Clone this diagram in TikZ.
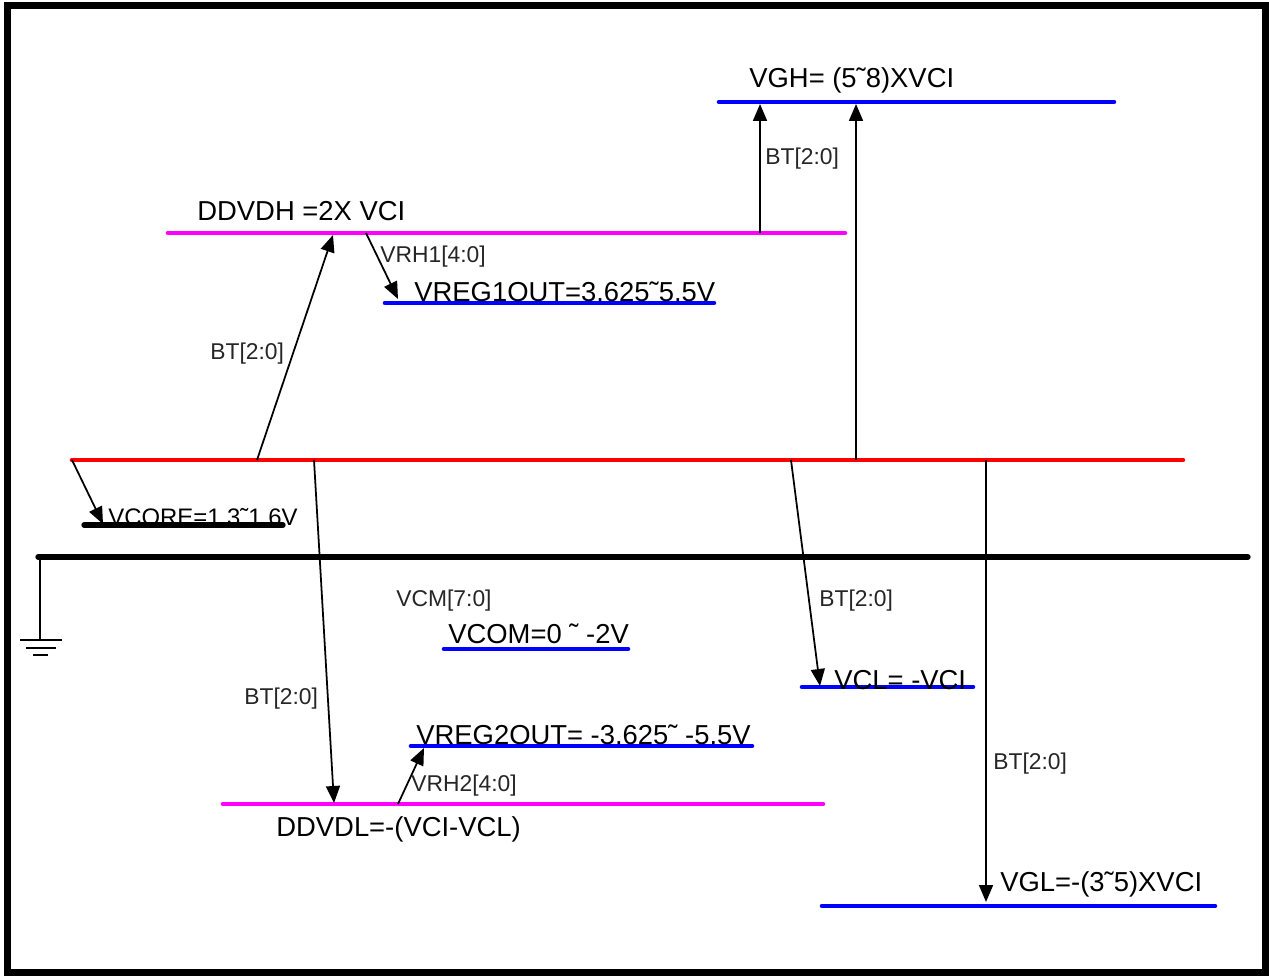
\documentclass[tikz,border=0pt]{standalone}
\usepackage{fontspec}
\setmainfont{Liberation Sans}
\usetikzlibrary{arrows.meta}
\definecolor{lvred}{RGB}{255,0,0}
\definecolor{lvmag}{RGB}{255,0,255}
\definecolor{lvblue}{RGB}{0,0,255}

\begin{document}
\begin{tikzpicture}[
  x=0.02cm, y=-0.02cm,
  rail/.style={line width=2.6pt, line cap=round},
  lvl/.style={anchor=west, inner sep=0pt, font=\fontsize{15.6}{18}\selectfont},
  tag/.style={anchor=west, inner sep=0pt, font=\fontsize{13}{15}\selectfont, text=black!85},
  arr/.style={-{Triangle[length=3.4mm,width=2.8mm]}, line width=1pt}
]
\useasboundingbox (0,0) rectangle (1269,976);
\draw[line width=4pt] (7.5,5.5) rectangle (1265.5,972.5);

% supply rails
\draw[rail, lvred] (72,460) -- (1183,460);
\draw[rail, line width=3pt] (38,557) -- (1248,557);
\draw[rail, lvmag] (168,233) -- (845,233);
\draw[rail, lvblue] (719,102) -- (1114,102);
\draw[rail, lvblue] (385,303) -- (714,303);
\draw[rail, line width=3pt] (84,525) -- (283,525);
\draw[rail, lvblue] (444,649) -- (628,649);
\draw[rail, lvblue] (802,687) -- (973,687);
\draw[rail, lvblue] (411,746) -- (752,746);
\draw[rail, lvmag] (223,804) -- (823,804);
\draw[rail, lvblue] (822,906) -- (1215,906);

% ground
\draw[line width=0.8pt] (40,557) -- (40,640);
\draw[line width=0.8pt] (20,640) -- (62,640);
\draw[line width=0.8pt] (26,648) -- (56,648);
\draw[line width=0.8pt] (33,655) -- (48,655);

% level names
\node[lvl] (vgh) at (749,80) {VGH= (5˜8)XVCI};
\node[lvl] (ddvdh) at (197,211) {DDVDH =2X VCI};
\node[lvl] (vreg1) at (414,292) {VREG1OUT=3.625˜5.5V};
\node[lvl, font=\fontsize{13.6}{16}\selectfont] (vcore) at (108,517) {VCORE=1.3˜1.6V};
\node[lvl] (vcom) at (448,634) {VCOM=0 ˜ -2V};
\node[lvl] (vcl) at (834,680) {VCL= -VCI};
\node[lvl] (vreg2) at (416,735) {VREG2OUT= -3.625˜ -5.5V};
\node[lvl] (ddvdl) at (276,829) {DDVDL=-(VCI-VCL)};
\node[lvl] (vgl) at (1000,884) {VGL=-(3˜5)XVCI};

% register tags
\node[tag] (bt1) at (210,354) {BT[2:0]};
\node[tag] (vrh1) at (380,257) {VRH1[4:0]};
\node[tag] (bt2) at (765,159) {BT[2:0]};
\node[tag] (vcm) at (396,601) {VCM[7:0]};
\node[tag] (bt3) at (244,699) {BT[2:0]};
\node[tag] (vrh2) at (411,786) {VRH2[4:0]};
\node[tag] (bt4) at (819,601) {BT[2:0]};
\node[tag] (bt5) at (993,764) {BT[2:0]};

% arrow ends on the rails
\coordinate (vciA) at (257,460);  \coordinate (ddvdhA) at (333,235);
\coordinate (ddvdhB) at (366,233); \coordinate (vreg1A) at (398,299);
\coordinate (ddvdhC) at (760,233); \coordinate (vghA) at (760,104);
\coordinate (vciB) at (856,460);  \coordinate (vghB) at (856,104);
\coordinate (vciC) at (72,460);   \coordinate (vcoreA) at (103,524);
\coordinate (vciD) at (314,460);  \coordinate (ddvdlA) at (334,803);
\coordinate (ddvdlB) at (398,804); \coordinate (vreg2A) at (424,748);
\coordinate (vciE) at (791,460);  \coordinate (vclA) at (820,686);
\coordinate (vciF) at (986,460);  \coordinate (vglA) at (986,902);

\draw[arr] (vciA) -- (ddvdhA);
\draw[arr] (ddvdhB) -- (vreg1A);
\draw[arr] (ddvdhC) -- (vghA);
\draw[arr] (vciB) -- (vghB);
\draw[arr] (vciC) -- (vcoreA);
\draw[arr] (vciD) -- (ddvdlA);
\draw[arr] (ddvdlB) -- (vreg2A);
\draw[arr] (vciE) -- (vclA);
\draw[arr] (vciF) -- (vglA);
\end{tikzpicture}
\end{document}
